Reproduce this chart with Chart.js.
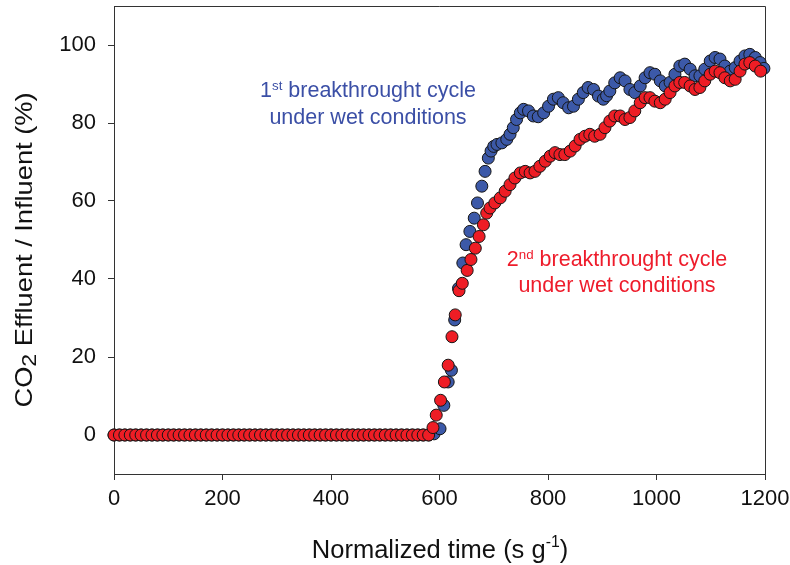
<!DOCTYPE html>
<html><head><meta charset="utf-8">
<script src="https://cdn.jsdelivr.net/npm/chart.js@4/dist/chart.umd.min.js"></script>
<style>html,body{margin:0;padding:0;background:#fff}</style>
</head><body>
<canvas id="c" width="790" height="565"></canvas>
<script>
// ---------- data ----------
const xTickValues = [0, 200, 400, 600, 800, 1000, 1200];
const yTickValues = [0, 20, 40, 60, 80, 100];

const blueX = [0,10,20,30,40,50,60,70,80,90,100,110,120,130,140,150,160,170,180,190,200,210,220,230,240,250,260,270,280,290,300,310,320,330,340,350,360,370,380,390,400,410,420,430,440,450,460,470,480,490,500,510,520,530,540,550,560,570,580,590,
  601,608,616,622,628,635,643,649,656,664,670,678,684,690,695,700,706,715,724,730,736,742,749,755,764,773,782,792,801,810,819,828,838,847,856,865,874,884,893,902,908,914,923,933,942,951,960,970,979,988,997,1007,1016,1025,1034,1043,1052,1062,1071,1080,1089,1099,1108,1117,1126,1136,1145,1154,1163,1172,1182,1191,1198];
const blueY = [0,0,0,0,0,0,0,0,0,0,0,0,0,0,0,0,0,0,0,0,0,0,0,0,0,0,0,0,0,0,0,0,0,0,0,0,0,0,0,0,0,0,0,0,0,0,0,0,0,0,0,0,0,0,0,0,0,0,0,0.3,
  1.6,7.6,13.6,16.6,29.5,37.6,44.1,48.8,52.2,55.6,59.5,63.8,67.6,71.0,72.8,74.0,74.5,74.9,75.8,77.1,78.8,80.9,82.6,83.5,83.1,81.8,81.6,82.6,84.3,86.1,86.5,85.2,83.9,84.3,86.1,87.8,89.1,88.6,86.9,86.1,87.0,88.2,90.3,91.6,90.8,88.6,87.8,89.5,91.6,92.9,92.5,90.8,89.5,90.4,92.5,94.6,95.1,93.8,92.1,92.1,93.8,95.9,96.8,96.4,94.6,93.3,94.2,95.9,97.2,97.6,96.8,95.5,94.0];

const redX = [0,10,20,30,40,50,60,70,80,90,100,110,120,130,140,150,160,170,180,190,200,210,220,230,240,250,260,270,280,290,300,310,320,330,340,350,360,370,380,390,400,410,420,430,440,450,460,470,480,490,500,510,520,530,540,550,560,570,580,
  588,594,602,609,616,623,629,636,642,651,658,666,673,681,687,693,702,712,721,730,739,749,758,767,776,785,795,804,813,822,831,841,850,859,868,877,886,896,905,914,923,933,942,951,960,970,979,988,997,1007,1016,1025,1034,1043,1052,1062,1071,1080,1089,1099,1108,1117,1126,1136,1145,1154,1163,1172,1182,1192];
const redY = [0,0,0,0,0,0,0,0,0,0,0,0,0,0,0,0,0,0,0,0,0,0,0,0,0,0,0,0,0,0,0,0,0,0,0,0,0,0,0,0,0,0,0,0,0,0,0,0,0,0,0,0,0,0,0,0,0,0,0,
  1.9,5.1,8.9,13.6,17.9,25.2,30.8,37.0,38.9,42.2,45.0,47.9,50.9,53.9,56.9,58.2,59.5,60.8,62.5,64.2,65.9,67.2,67.6,67.2,67.6,68.9,70.2,71.5,72.4,71.9,71.9,72.8,74.1,75.8,76.6,77.1,76.6,77.1,78.8,80.5,81.8,81.8,80.9,81.4,83.1,85.2,86.5,86.5,85.6,85.2,86.1,87.8,89.5,90.4,90.4,89.5,88.6,89.1,90.8,92.5,93.3,92.9,91.6,90.8,91.2,93.3,95.1,95.5,94.6,93.3];

// ---------- texts ----------
const xTitleParts = [['Normalized time (s g','n'],['-1','sup'],[')','n']];
const yTitleParts = [['CO','n'],['2','sub'],[' Effluent / Influent (%)','n']];
const note1Line1 = [['1','n'],['st','sup'],[' breakthrought cycle','n']];
const note1Line2 = [['under wet conditions','n']];
const note2Line1 = [['2','n'],['nd','sup'],[' breakthrought cycle','n']];
const note2Line2 = [['under wet conditions','n']];

const FONT = "'Liberation Sans', Arial, sans-serif";
const BLUE_FILL = '#3c59a8', RED_FILL = '#ee1d25';
const BLUE_TEXT = '#3b4fa6', RED_TEXT = '#ee1c2b';

function drawRich(ctx, parts, cx, baseline, f, color, opt) {
  opt = opt || {};
  const segs = parts.map(([t, m]) => {
    const size = m === 'n' ? f : (m === 'sup' ? f * 0.62 : f * 0.85);
    ctx.font = size + 'px ' + FONT;
    return { t, m, size, w: ctx.measureText(t).width };
  });
  const total = segs.reduce((a, s) => a + s.w, 0);
  ctx.save();
  ctx.translate(cx, baseline);
  if (opt.rotate) ctx.rotate(opt.rotate);
  let sx = 1;
  if (opt.length) sx = opt.length / total;
  ctx.scale(sx, 1);
  ctx.fillStyle = color;
  ctx.textAlign = 'left';
  ctx.textBaseline = 'alphabetic';
  let x = -total / 2;
  for (const s of segs) {
    ctx.font = s.size + 'px ' + FONT;
    let dy = 0;
    if (s.m === 'sup') dy = -f * (opt.supRaise || 0.33);
    if (s.m === 'sub') dy = f * 0.17;
    ctx.fillText(s.t, x, dy);
    x += s.w;
  }
  ctx.restore();
}

const decor = {
  id: 'decor',
  beforeDatasetsDraw(chart) {
    const { ctx, chartArea: a } = chart;
    ctx.save();
    ctx.strokeStyle = '#333';
    ctx.lineWidth = 1;
    ctx.beginPath();
    ctx.moveTo(a.left, a.top + 0.5);
    ctx.lineTo(a.right + 0.5, a.top + 0.5);
    ctx.lineTo(a.right + 0.5, a.bottom);
    ctx.stroke();
    ctx.restore();
  },
  afterDraw(chart) {
    const ctx = chart.ctx;
    drawRich(ctx, xTitleParts, 440, 558, 25.5, '#111', { supRaise: 0.42 });
    drawRich(ctx, yTitleParts, 32, 250, 24, '#111', { rotate: -Math.PI / 2, length: 315 });
    drawRich(ctx, note1Line1, 368, 97, 21.5, BLUE_TEXT);
    drawRich(ctx, note1Line2, 368, 123.5, 21.5, BLUE_TEXT);
    drawRich(ctx, note2Line1, 617, 266, 21.5, RED_TEXT);
    drawRich(ctx, note2Line2, 617, 292, 21.5, RED_TEXT);
  }
};

const toPts = (xs, ys) => xs.map((x, i) => ({ x, y: ys[i] }));
const zeroPad = s => { s.paddingLeft = 0; s.paddingRight = 0; s.paddingTop = 0; s.paddingBottom = 0; };

new Chart(document.getElementById('c'), {
  type: 'scatter',
  data: {
    datasets: [
      { label: '2nd cycle', data: toPts(redX, redY), order: 0, clip: false,
        backgroundColor: RED_FILL, borderColor: '#151515', pointRadius: 6, pointBorderWidth: 1, pointHoverRadius: 6 },
      { label: '1st cycle', data: toPts(blueX, blueY), order: 1, clip: false,
        backgroundColor: BLUE_FILL, borderColor: '#151515', pointRadius: 6, pointBorderWidth: 1, pointHoverRadius: 6 }
    ]
  },
  options: {
    responsive: false,
    animation: false,
    events: [],
    layout: { autoPadding: false, padding: { top: 6, right: 25, left: 0, bottom: 0 } },
    plugins: { legend: { display: false }, tooltip: { enabled: false } },
    scales: {
      x: {
        type: 'linear', min: 0, max: 1200,
        afterBuildTicks: s => { s.ticks = xTickValues.map(v => ({ value: v })); },
        afterFit: s => { s.height = 91; zeroPad(s); },
        grid: { drawOnChartArea: false, drawTicks: true, tickLength: 6, color: '#333', lineWidth: 1 },
        border: { display: true, color: '#333', width: 1 },
        ticks: { font: { family: FONT, size: 22 }, color: '#111', padding: 6, maxRotation: 0, autoSkip: false,
                 callback: v => String(v) },
        title: { display: false }
      },
      y: {
        type: 'linear', min: -10, max: 110,
        afterBuildTicks: s => { s.ticks = yTickValues.map(v => ({ value: v })); },
        afterFit: s => { s.width = 114; zeroPad(s); },
        grid: { drawOnChartArea: false, drawTicks: true, tickLength: 6, color: '#333', lineWidth: 1 },
        border: { display: true, color: '#333', width: 1 },
        ticks: { font: { family: FONT, size: 22 }, color: '#111', padding: 12, autoSkip: false,
                 callback: v => String(v) },
        title: { display: false }
      }
    }
  },
  plugins: [decor]
});
</script>
</body></html>
